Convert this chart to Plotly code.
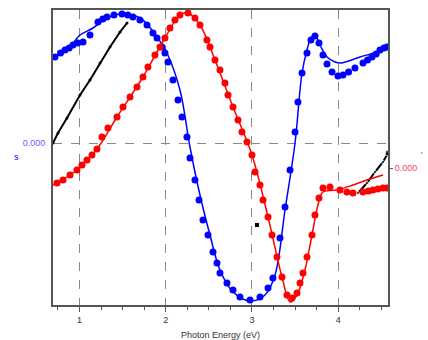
import plotly.graph_objects as go

# Blue series (left axis) - measured points
blue_x = [0.716, 0.78, 0.832, 0.88, 0.925, 0.98, 1.041, 1.122, 1.214, 1.27, 1.319, 1.40, 1.493, 1.56, 1.620, 1.701,
          1.783, 1.852, 1.899, 1.957, 1.991, 2.026, 2.084, 2.142, 2.188, 2.246, 2.281, 2.339,
          2.386, 2.432, 2.490, 2.548, 2.594, 2.629, 2.710, 2.780, 2.861, 2.977, 3.093, 3.186,
          3.243, 3.325, 3.383, 3.441, 3.499, 3.533, 3.580, 3.638, 3.684, 3.730, 3.777, 3.823,
          3.870, 3.928, 3.997, 4.055, 4.12, 4.194, 4.287, 4.34, 4.391, 4.44, 4.484, 4.53, 4.565]
blue_y = [0.86, 0.90, 0.93, 0.95, 0.98, 1.00, 1.01, 1.08, 1.21, 1.24, 1.26, 1.28, 1.29, 1.28, 1.26, 1.23,
          1.18, 1.10, 1.05, 0.96, 0.90, 0.81, 0.63, 0.43, 0.26, 0.06, -0.15, -0.37,
          -0.57, -0.77, -0.92, -1.09, -1.20, -1.30, -1.40, -1.47, -1.54, -1.57, -1.54, -1.45,
          -1.35, -0.95, -0.64, -0.27, 0.11, 0.41, 0.70, 0.90, 1.03, 1.07, 1.00, 0.88,
          0.79, 0.71, 0.67, 0.68, 0.71, 0.75, 0.80, 0.83, 0.86, 0.89, 0.93, 0.95, 0.96]

# Blue fit line
bfit_x = [0.693, 0.925, 1.006, 1.157, 1.319, 1.493, 1.701, 1.899, 2.014, 2.165, 2.281, 2.397,
          2.513, 2.629, 2.780, 2.977, 3.151, 3.267, 3.383, 3.499, 3.580, 3.638, 3.684, 3.730,
          3.789, 3.870, 3.963, 4.032, 4.252, 4.449, 4.565]
bfit_y = [0.85, 1.00, 1.08, 1.15, 1.25, 1.29, 1.25, 1.06, 0.90, 0.53, -0.04, -0.52,
          -0.92, -1.27, -1.49, -1.58, -1.52, -1.32, -0.67, 0.00, 0.70, 0.93, 1.05, 1.08,
          0.98, 0.86, 0.81, 0.80, 0.86, 0.91, 0.96]

# Red series (right axis) - measured points
red_x = [0.739, 0.809, 0.890, 0.971, 1.029, 1.087, 1.145, 1.203, 1.261, 1.330, 1.435, 1.504,
         1.586, 1.667, 1.736, 1.794, 1.875, 1.933, 1.991, 2.049, 2.107, 2.165, 2.258, 2.339,
         2.397, 2.478, 2.513, 2.571, 2.629, 2.687, 2.722, 2.780, 2.838, 2.884, 2.942, 3.000,
         3.035, 3.093, 3.128, 3.186, 3.232, 3.290, 3.348, 3.406, 3.464, 3.522, 3.557, 3.591,
         3.638, 3.696, 3.730, 3.777, 3.823, 3.904, 4.020, 4.10, 4.171, 4.287, 4.35, 4.403, 4.46, 4.519, 4.565]
red_y = [-0.15, -0.12, -0.07, -0.02, 0.03, 0.08, 0.13, 0.19, 0.31, 0.40, 0.51, 0.61,
         0.71, 0.81, 0.91, 1.01, 1.13, 1.21, 1.30, 1.40, 1.48, 1.53, 1.55, 1.50,
         1.43, 1.28, 1.21, 1.08, 0.98, 0.85, 0.73, 0.61, 0.48, 0.36, 0.26, 0.13,
         -0.04, -0.17, -0.32, -0.49, -0.67, -0.89, -1.09, -1.27, -1.30, -1.25, -1.15, -1.05,
         -0.89, -0.67, -0.47, -0.30, -0.20, -0.19, -0.22, -0.24, -0.25, -0.24, -0.23, -0.22, -0.21, -0.20, -0.20]

# Red fit line
rfit_x = [0.693, 0.971, 1.203, 1.435, 1.736, 1.991, 2.165, 2.258, 2.397, 2.571, 2.780, 3.000,
          3.186, 3.348, 3.441, 3.522, 3.614, 3.696, 3.765, 3.823, 3.986, 4.171, 4.333, 4.519]
rfit_y = [-0.17, -0.02, 0.19, 0.51, 0.91, 1.30, 1.53, 1.55, 1.43, 1.08, 0.61, 0.13,
          -0.49, -1.09, -1.34, -1.27, -1.02, -0.67, -0.37, -0.24, -0.22, -0.17, -0.12, -0.07]

# Black curves (left axis)
black1_x = [0.693, 0.751, 0.855, 1.006, 1.122, 1.238, 1.354, 1.470, 1.551]
black1_y = [0.00, 0.10, 0.25, 0.48, 0.63, 0.80, 0.96, 1.11, 1.20]
black2_x = [4.229, 4.333, 4.426, 4.519, 4.577]
black2_y = [-0.50, -0.40, -0.29, -0.19, -0.10]
black_dot_x = [3.058]
black_dot_y = [-0.82]

x_ticks = [1, 2, 3, 4]
x_ticklabels = ["1", "2", "3", "4"]

BLUE = "#0000ff"
RED = "#ff0000"
GRAY = "#555555"

fig = go.Figure()
fig.add_trace(go.Scatter(x=black1_x, y=black1_y, mode="lines+markers",
                         line=dict(color="black", width=2), marker=dict(size=3, color="black"),
                         yaxis="y"))
fig.add_trace(go.Scatter(x=black2_x, y=black2_y, mode="lines+markers",
                         line=dict(color="black", width=2), marker=dict(size=[3, 3, 3, 3, 6], color="black"),
                         yaxis="y"))
fig.add_trace(go.Scatter(x=black_dot_x, y=black_dot_y, mode="markers",
                         marker=dict(size=4, color="black", symbol="square"), yaxis="y"))
fig.add_trace(go.Scatter(x=bfit_x, y=bfit_y, mode="lines", line=dict(color=BLUE, width=1.5),
                         line_shape="spline", yaxis="y"))
fig.add_trace(go.Scatter(x=blue_x, y=blue_y, mode="markers",
                         marker=dict(size=7, color=BLUE), yaxis="y"))
fig.add_trace(go.Scatter(x=rfit_x, y=rfit_y, mode="lines", line=dict(color=RED, width=1.5),
                         line_shape="spline", yaxis="y2"))
fig.add_trace(go.Scatter(x=red_x, y=red_y, mode="markers",
                         marker=dict(size=7, color=RED), yaxis="y2"))

fig.update_layout(
    width=428, height=340,
    margin=dict(l=53, r=40, t=10, b=35, autoexpand=False),
    plot_bgcolor="white", paper_bgcolor="white",
    showlegend=False,
    font=dict(family="Liberation Sans, Arial, sans-serif", size=9, color="#333333"),
    xaxis=dict(
        range=[0.693, 4.577],
        automargin=False,
        tickvals=x_ticks, ticktext=x_ticklabels,
        ticks="outside", ticklen=5, tickcolor=GRAY, tickwidth=1,
        minor=dict(dtick=0.25, tick0=0, ticks="outside", ticklen=3, tickcolor=GRAY, showgrid=False),
        showgrid=True, gridcolor="#888888", griddash="dash", gridwidth=1,
        zeroline=False,
        showline=True, linecolor=GRAY, linewidth=2, mirror=True,
        ticklabelstandoff=0,
        title=dict(text="Photon Energy (eV)", font=dict(size=9, color="#333333"), standoff=8),
        tickfont=dict(size=9, color="#333333"),
    ),
    yaxis=dict(
        range=[-1.62, 1.33],
        automargin=False,
        tickvals=[0], ticktext=["0.000"],
        ticks="", tickfont=dict(size=9, color="#6a5cff"),
        ticklabelstandoff=4,
        showgrid=True, gridcolor="#888888", griddash="dash", gridwidth=1,
        zeroline=False,
        showline=True, linecolor=GRAY, linewidth=2, mirror=True,
    ),
    yaxis2=dict(
        range=[-1.37, 1.58],
        automargin=False,
        overlaying="y", side="right",
        tickvals=[0], ticktext=["0.000"],
        ticks="outside", ticklen=4, tickcolor=GRAY,
        tickfont=dict(size=9, color="#ff4060"),
        showgrid=False, zeroline=False, showline=False,
    ),
    annotations=[
        dict(text="s", x=0, y=0, xref="paper", yref="paper", showarrow=False,
             font=dict(size=9, color=BLUE)),
        dict(text="'", x=0, y=0, xref="paper", yref="paper", showarrow=False,
             font=dict(size=9, color=RED)),
    ],
)

# place the annotations in pixel terms relative to the plot area
pw = 428 - 53 - 40
ph = 340 - 10 - 35
fig.layout.annotations[0].update(x=(12 - 53) / pw, y=(305 - 157) / ph)
fig.layout.annotations[1].update(x=(425 - 53) / pw, y=(305 - 155) / ph)

fig.write_html("out.html")
